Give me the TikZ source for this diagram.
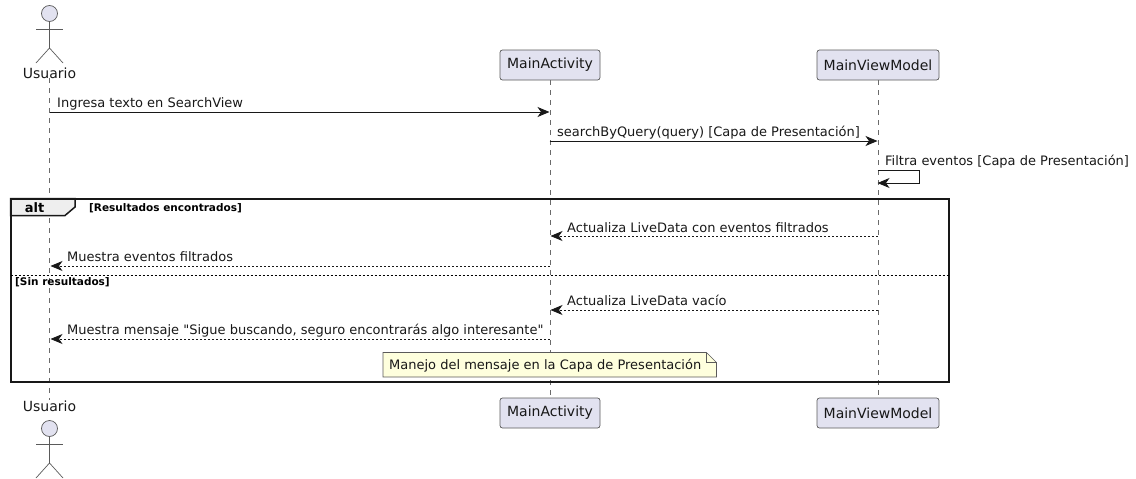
\documentclass[tikz,border=0pt]{standalone}
\usepackage{fontspec}
\setmainfont{DejaVu Sans}
\newfontfamily\plainfont{DejaVu Sans}
\usetikzlibrary{arrows.meta}
\definecolor{partfill}{HTML}{E2E2F0}
\definecolor{partline}{HTML}{181818}
\definecolor{softline}{HTML}{5A5A5A}
\definecolor{notefill}{HTML}{FEFFDD}
\definecolor{altfill}{HTML}{EEEEEE}
\definecolor{lifecol}{HTML}{6A6A6A}
\tikzset{
  x=1pt,y=-1pt,
  participant/.style={draw=softline,fill=partfill,rounded corners=2.5pt,line width=.7pt,minimum height=30pt,inner sep=0pt,font=\fontsize{14}{16}\selectfont,text=partline},
  actorlabel/.style={inner sep=0pt,font=\fontsize{14}{16}\selectfont,text=partline},
  lifeline/.style={draw=lifecol,line width=.6pt,dash pattern=on 5pt off 5pt},
  actorline/.style={draw=softline,line width=.7pt},
  msg/.style={line width=1pt,draw=partline,-{Stealth[length=12pt,width=10pt,inset=3.5pt,fill=partline]}},
  msgback/.style={msg,line width=.8pt,dash pattern=on 2pt off 2pt},
  msgtext/.style={inner sep=0pt,anchor=base west,font=\plainfont\fontsize{13}{15}\selectfont,text=partline},
  guard/.style={inner sep=0pt,anchor=base west,font=\fontsize{10.5}{12}\bfseries\selectfont,text=black},
  frameline/.style={draw=partline,line width=2pt},
}
\begin{document}
\begin{tikzpicture}
\useasboundingbox (0,0) rectangle (1136,479);
% participants and actors
\node[actorlabel,anchor=base] (usuarioTop) at (49.5,78) {Usuario};
\node[actorlabel,anchor=base] (usuarioBot) at (49.5,411) {Usuario};
\node[participant,minimum width=100pt] (activityTop) at (550,65) {MainActivity};
\node[participant,minimum width=100pt] (activityBot) at (550,413) {MainActivity};
\node[participant,minimum width=122pt] (modelTop) at (878,65) {MainViewModel};
\node[participant,minimum width=122pt] (modelBot) at (878,413) {MainViewModel};
% lifelines
\draw[lifeline] (usuarioTop.south) -- (usuarioBot.north);
\draw[lifeline] (activityTop.south) -- (activityBot.north);
\draw[lifeline] (modelTop.south) -- (modelBot.north);
% actor figures
\node[actorline,circle,fill=partfill,minimum size=16pt,inner sep=0pt] (headTop) at (49.5,13.5) {};
\draw[actorline] (headTop.south) -- (49.5,48) coordinate (hipTop);
\draw[actorline] (36,29) -- (63,29);
\draw[actorline] (36,63) -- (hipTop) -- (63,63);
\node[actorline,circle,fill=partfill,minimum size=16pt,inner sep=0pt] (headBot) at (49.5,428.5) {};
\draw[actorline] (headBot.south) -- (49.5,463) coordinate (hipBot);
\draw[actorline] (36,444) -- (63,444);
\draw[actorline] (36,478) -- (hipBot) -- (63,478);
% message anchor points on lifelines
\foreach \n/\x/\y in {u1/49.5/112,a1/549.5/112,a2/549.5/141,m2/877.5/141,m3a/877.5/170,m3b/919.5/170,m3c/919.5/183,m3d/877.5/183,m4/877.5/236,a4/550.5/236,a5/549.5/266,u5/50.5/266,m6/877.5/310,a6/550.5/310,a7/549.5/339,u7/50.5/339}
  \coordinate (\n) at (\x,\y);
% messages
\draw[msg] (u1) -- (a1);
\node[msgtext] (t1) at (57,107.5) {Ingresa texto en SearchView};
\draw[msg] (a2) -- (m2);
\node[msgtext] (t2) at (557,136.5) {searchByQuery(query) [Capa de Presentación]};
\draw[msg] (m3a) -- (m3b) -- (m3c) -- (m3d);
\node[msgtext] (t3) at (885,165.5) {Filtra eventos [Capa de Presentación]};
\draw[msgback] (m4) -- (a4);
\node[msgtext] (t4) at (567,232) {Actualiza LiveData con eventos filtrados};
\draw[msgback] (a5) -- (u5);
\node[msgtext] (t5) at (67,261.5) {Muestra eventos filtrados};
\draw[msgback] (m6) -- (a6);
\node[msgtext] (t6) at (567,305.5) {Actualiza LiveData vacío};
\draw[msgback] (a7) -- (u7);
\node[msgtext] (t7) at (67,334.5) {Muestra mensaje "Sigue buscando, seguro encontrarás algo interesante"};
% note
\draw[draw=softline,fill=notefill,line width=.7pt] (383,352.5) -- (706.5,352.5) -- (716.5,362.5) -- (716.5,377) -- (383,377) -- cycle;
\draw[draw=softline,line width=.7pt] (706.5,352.5) -- (706.5,362.5) -- (716.5,362.5);
\node[msgtext] (noteText) at (389,369) {Manejo del mensaje en la Capa de Presentación};
% alt frame
\draw[frameline,fill=altfill,line width=1.5pt] (10.5,198.5) -- (75,198.5) -- (75,207) -- (65,215.5) -- (10.5,215.5) -- cycle;
\draw[frameline] (10.5,198.5) rectangle (948.5,382);
\node[inner sep=0pt,anchor=base,font=\fontsize{13}{15}\bfseries\selectfont] (altLabel) at (34.5,212) {alt};
\node[guard] (g1) at (89,211) {[Resultados encontrados]};
\node[guard] (g2) at (15,285) {[Sin resultados]};
\draw[draw=black,line width=.8pt,dash pattern=on 2pt off 2pt] (10.5,275) coordinate (sepL) -- (948.5,275) coordinate (sepR);
\end{tikzpicture}
\end{document}
